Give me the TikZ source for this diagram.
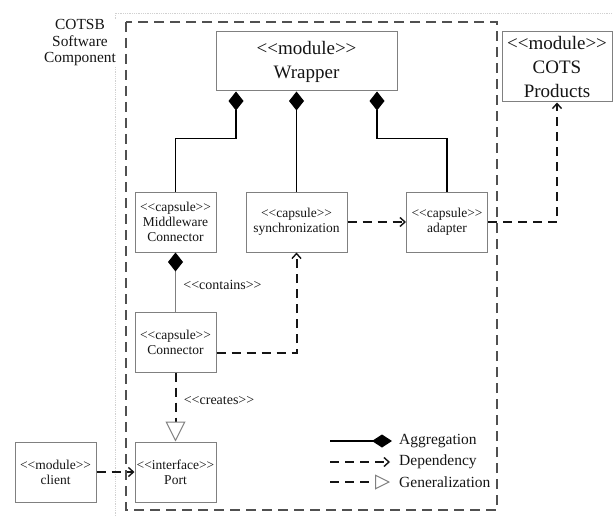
\documentclass[tikz,border=0pt]{standalone}
\usepackage{fontspec}
\setmainfont{Liberation Serif}[Ligatures=TeXOff]
\usetikzlibrary{arrows.meta}
\definecolor{boxgray}{HTML}{808080}
\definecolor{inkgray}{HTML}{151515}
\definecolor{framegray}{HTML}{505050}
\newcommand{\stereo}[1]{<<#1>>}

\begin{document}
\begin{tikzpicture}[x=1pt,y=-1pt,
  comp/.style={draw=boxgray,line width=1pt,fill=white,minimum width=81pt,minimum height=60pt,
    align=center,inner sep=1pt,text=inkgray,font=\fontsize{13.5}{15}\selectfont},
  bigcomp/.style={comp,font=\fontsize{19}{24}\selectfont},
  agg/.style={draw=black,line width=1.1pt,arrows={Diamond[length=19pt,width=15pt,color=black]-}},
  dep/.style={draw=inkgray,line width=2pt,dash pattern=on 9pt off 6pt,
    arrows={-Straight Barb[length=5pt,width=9pt,line width=1.4pt]}},
  gen/.style={draw=inkgray,line width=2pt,dash pattern=on 9pt off 6pt,
    arrows={-Triangle[open,length=20pt,width=20pt,line width=1pt,color=boxgray,fill=white]}},
  small/.style={text=inkgray,font=\fontsize{14}{16}\selectfont},
  legend/.style={text=inkgray,anchor=west,inner sep=0pt,font=\fontsize{15.5}{17}\selectfont}]
\useasboundingbox (0,0) rectangle (613,516);
% faint outer frame
\draw[black!18,densely dotted,line width=0.8pt] (115,516) |- (613,13);
% component boundary
\draw[framegray,line width=1.8pt,dash pattern=on 10pt off 6pt] (126,22) rectangle (497,510);
\node[text=inkgray,fill=white,align=center,inner sep=1pt,font=\fontsize{15.4}{16.5}\selectfont]
  (cotsb) at (80,43) {COTSB\\Software\\Component};

% components
\node[bigcomp,minimum width=181pt,minimum height=59pt] (wrapper) at (306.5,61.5) {\stereo{module}\\Wrapper};
\node[bigcomp,minimum width=110pt,minimum height=70pt] (cots) at (557,67) {\stereo{module}\\COTS\\Products};
\node[comp] (mw) at (175.5,222) {\stereo{capsule}\\Middleware\\Connector};
\node[comp,minimum width=101pt] (sync) at (296.5,222) {\stereo{capsule}\\synchronization};
\node[comp] (adapter) at (447,222) {\stereo{capsule}\\adapter};
\node[comp] (conn) at (175.5,342) {\stereo{capsule}\\Connector};
\node[comp] (port) at (175.5,472) {\stereo{interface}\\Port};
\node[comp] (client) at (55.5,472) {\stereo{module}\\client};

% aggregations
\draw[agg] ([xshift=-70.5pt]wrapper.south) -- ++(0,47) -| (mw.north);
\draw[agg] (wrapper.south -| sync.north) -- (sync.north);
\draw[agg] ([xshift=70.5pt]wrapper.south) -- ++(0,47) -| (adapter.north);
\draw[agg,draw=boxgray] (mw.south) -- node[small,right=4pt,pos=0.55] (contains) {\stereo{contains}} (conn.north);

% dependencies
\draw[dep] (sync.east) -- (adapter.west);
\draw[dep] (adapter.east) -| (cots.south);
\draw[dep] ([yshift=-11pt]conn.east) -| (sync.south);
\draw[dep] (client.east) -- (port.west);
\draw[gen] (conn.south) -- node[small,right=4pt,pos=0.4] (creates) {\stereo{creates}} (port.north);

% legend
\coordinate (lga) at (330,441);
\coordinate (lgb) at (330,462);
\coordinate (lgc) at (330,482);
\draw[line width=1.1pt,arrows={-Diamond[length=20pt,width=13pt]}] (lga) -- ++(62,0);
\draw[dep] (lgb) -- ++(60,0);
\draw[gen,arrows={-Triangle[open,length=15pt,width=15pt,line width=1pt,color=boxgray,fill=white]}] (lgc) -- ++(60,0);
\node[legend] (aggtext) at (399,441) {Aggregation};
\node[legend] (deptext) at (399,462) {Dependency};
\node[legend] (gentext) at (399,482) {Generalization};
\end{tikzpicture}
\end{document}
